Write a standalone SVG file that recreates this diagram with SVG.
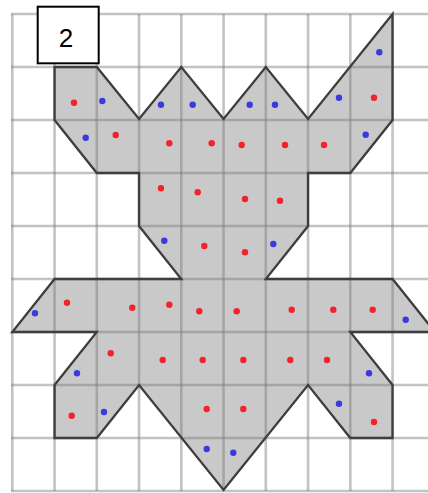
<svg xmlns="http://www.w3.org/2000/svg" width="428" height="493" viewBox="0 0 428 493">
<style>
.grid line{stroke:#7a7a7a;stroke-opacity:0.45;stroke-width:2.6}
.shape{fill:#c9c9c9;stroke:none}
.outline{fill:none;stroke:#3e3e3e;stroke-width:2.3;stroke-linejoin:miter}
.r{fill:#f5222b}
.b{fill:#3a3ade}
.label rect{fill:#fff;stroke:#000;stroke-width:2}
.label text{font-family:"Liberation Sans",Arial,sans-serif;font-size:26px;fill:#000}
</style>
<rect x="0" y="0" width="428" height="493" fill="#fff"/>
<g id="shape-fill">
<polygon class="shape" points="54.55,67 96.8,67 139.05,119 181.3,67 223.55,119 265.8,67 308.05,119 392.55,14 392.55,120 350.3,173 308.05,173 308.05,226 265.8,279 392.55,279 434.8,332 350.3,332 392.55,385 392.55,438 350.3,438 308.05,385 223.55,490 139.05,385 96.8,438 54.55,438 54.55,385 96.8,332 12.3,332 54.55,279 181.3,279 139.05,226 139.05,173 96.8,173 54.55,120"/>
</g>
<g id="grid" class="grid">
<line x1="12.3" y1="14" x2="12.3" y2="491"/>
<line x1="54.55" y1="14" x2="54.55" y2="491"/>
<line x1="96.8" y1="14" x2="96.8" y2="491"/>
<line x1="139.05" y1="14" x2="139.05" y2="491"/>
<line x1="181.3" y1="14" x2="181.3" y2="491"/>
<line x1="223.55" y1="14" x2="223.55" y2="491"/>
<line x1="265.8" y1="14" x2="265.8" y2="491"/>
<line x1="308.05" y1="14" x2="308.05" y2="491"/>
<line x1="350.3" y1="14" x2="350.3" y2="491"/>
<line x1="392.55" y1="14" x2="392.55" y2="491"/>
<line x1="11" y1="14" x2="428" y2="14"/>
<line x1="11" y1="67" x2="428" y2="67"/>
<line x1="11" y1="120" x2="428" y2="120"/>
<line x1="11" y1="173" x2="428" y2="173"/>
<line x1="11" y1="226" x2="428" y2="226"/>
<line x1="11" y1="279" x2="428" y2="279"/>
<line x1="11" y1="332" x2="428" y2="332"/>
<line x1="11" y1="385" x2="428" y2="385"/>
<line x1="11" y1="438" x2="428" y2="438"/>
<line x1="11" y1="491" x2="428" y2="491"/>
</g>
<g id="shape-outline">
<polygon class="outline" points="54.55,67 96.8,67 139.05,119 181.3,67 223.55,119 265.8,67 308.05,119 392.55,14 392.55,120 350.3,173 308.05,173 308.05,226 265.8,279 392.55,279 434.8,332 350.3,332 392.55,385 392.55,438 350.3,438 308.05,385 223.55,490 139.05,385 96.8,438 54.55,438 54.55,385 96.8,332 12.3,332 54.55,279 181.3,279 139.05,226 139.05,173 96.8,173 54.55,120"/>
</g>
<g id="dots-red">
<circle class="r" cx="74" cy="102.7" r="3.2"/>
<circle class="r" cx="115.7" cy="135" r="3.2"/>
<circle class="r" cx="169.3" cy="143.3" r="3.2"/>
<circle class="r" cx="211.7" cy="143.3" r="3.2"/>
<circle class="r" cx="241.7" cy="145" r="3.2"/>
<circle class="r" cx="285" cy="145" r="3.2"/>
<circle class="r" cx="324" cy="145" r="3.2"/>
<circle class="r" cx="374" cy="97.7" r="3.2"/>
<circle class="r" cx="161" cy="188.3" r="3.2"/>
<circle class="r" cx="197.7" cy="192.3" r="3.2"/>
<circle class="r" cx="245" cy="199" r="3.2"/>
<circle class="r" cx="280" cy="200.7" r="3.2"/>
<circle class="r" cx="204.3" cy="246" r="3.2"/>
<circle class="r" cx="245" cy="252.3" r="3.2"/>
<circle class="r" cx="67" cy="302.7" r="3.2"/>
<circle class="r" cx="132.3" cy="307.7" r="3.2"/>
<circle class="r" cx="169.3" cy="304.7" r="3.2"/>
<circle class="r" cx="199.3" cy="311.3" r="3.2"/>
<circle class="r" cx="236.7" cy="311.3" r="3.2"/>
<circle class="r" cx="291.7" cy="309.7" r="3.2"/>
<circle class="r" cx="333.3" cy="309.7" r="3.2"/>
<circle class="r" cx="372.7" cy="309.7" r="3.2"/>
<circle class="r" cx="110.7" cy="353.3" r="3.2"/>
<circle class="r" cx="162.7" cy="360" r="3.2"/>
<circle class="r" cx="202.7" cy="360" r="3.2"/>
<circle class="r" cx="243.3" cy="360" r="3.2"/>
<circle class="r" cx="290.3" cy="360" r="3.2"/>
<circle class="r" cx="327" cy="360" r="3.2"/>
<circle class="r" cx="71.7" cy="415.7" r="3.2"/>
<circle class="r" cx="206.7" cy="409" r="3.2"/>
<circle class="r" cx="243.3" cy="409" r="3.2"/>
<circle class="r" cx="374" cy="422" r="3.2"/>
</g>
<g id="dots-blue">
<circle class="b" cx="102.3" cy="101" r="3.2"/>
<circle class="b" cx="161" cy="104.7" r="3.2"/>
<circle class="b" cx="192.7" cy="104.7" r="3.2"/>
<circle class="b" cx="249.7" cy="104.7" r="3.2"/>
<circle class="b" cx="275" cy="104.7" r="3.2"/>
<circle class="b" cx="339" cy="97.7" r="3.2"/>
<circle class="b" cx="379.3" cy="52.3" r="3.2"/>
<circle class="b" cx="85.7" cy="137.7" r="3.2"/>
<circle class="b" cx="365.7" cy="134.7" r="3.2"/>
<circle class="b" cx="164.3" cy="240.7" r="3.2"/>
<circle class="b" cx="273.3" cy="244" r="3.2"/>
<circle class="b" cx="35" cy="313.3" r="3.2"/>
<circle class="b" cx="405.7" cy="319.7" r="3.2"/>
<circle class="b" cx="77" cy="373.3" r="3.2"/>
<circle class="b" cx="369" cy="373.3" r="3.2"/>
<circle class="b" cx="104" cy="412" r="3.2"/>
<circle class="b" cx="339" cy="403.7" r="3.2"/>
<circle class="b" cx="206.7" cy="449" r="3.2"/>
<circle class="b" cx="233.3" cy="452.7" r="3.2"/>
</g>
<g id="label" class="label">
<rect x="37.7" y="6.7" width="61" height="56.6"/>
<text x="66" y="46.7" text-anchor="middle">2</text>
</g>
</svg>
